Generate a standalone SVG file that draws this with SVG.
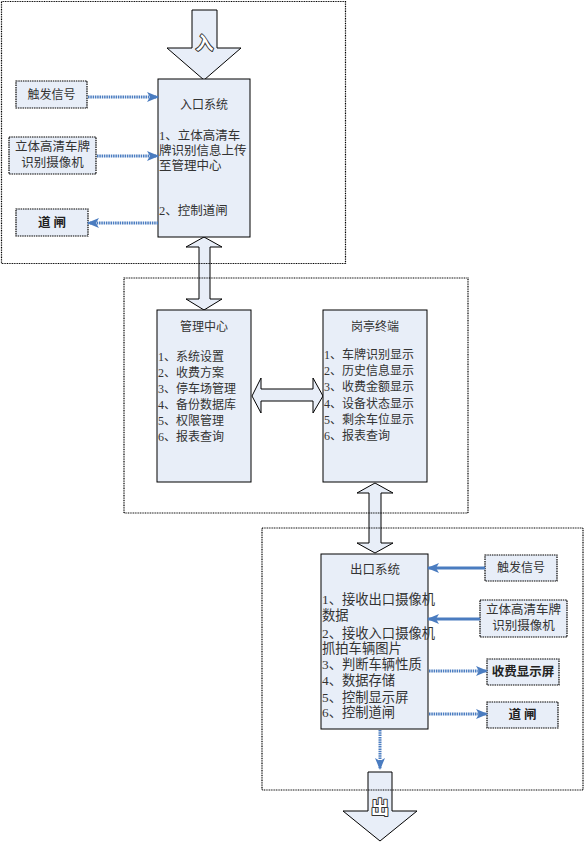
<svg xmlns="http://www.w3.org/2000/svg" width="584" height="846" viewBox="0 0 584 846">
<style>
text{font-family:"Liberation Serif","Noto Sans CJK SC",serif;fill:#333;font-size:12px}
.c{text-anchor:middle}
.b{font-weight:bold;font-size:12.5px;fill:#222}
.box{fill:#e8eef8;stroke:#000;stroke-width:1}
.sbox{fill:#e8eef8;stroke:#000;stroke-width:1.2;stroke-dasharray:1.5 0.8}
.frame{fill:none;stroke:#000;stroke-width:1.2;stroke-dasharray:1 0.7}
.big{fill:#e8eef8;stroke:#000;stroke-width:1}
.ol{font-family:"Noto Sans CJK SC",sans-serif;fill:#ffffff;stroke:#333333;stroke-width:2;paint-order:stroke;stroke-linejoin:round;font-size:18px;font-weight:bold}
.dl{stroke:#4a7cc0;stroke-width:3;stroke-dasharray:1.5 0.8;fill:none}
.sl{stroke:#4a7cc0;stroke-width:3;fill:none}
.e{font-size:13.3px}
</style>
<defs>
<marker id="ah" markerUnits="userSpaceOnUse" markerWidth="12" markerHeight="12" refX="11" refY="5" orient="auto" viewBox="0 0 12 10">
<path d="M0,0 L12,5 L0,10 L3,5 z" fill="#4a7cc0"/>
</marker>
</defs>

<g id="big-arrows">
<polygon class="big" points="192,10 217,10 217,48 241,48 204,80 167,48 192,48"/>
<text class="ol c" x="204.5" y="50">入</text>
<polygon class="big" points="204,237 222,247 210,247 210,299 222,299 204,310 186,299 199,299 199,247 186,247"/>
<polygon class="big" points="252,396 261,378 261,389 313,389 313,378 323,396 313,413 313,401 261,401 261,413"/>
<polygon class="big" points="375,483 393,493 381,493 381,543 393,543 375,553 357,543 369,543 369,493 357,493"/>
<polygon class="big" points="368,772 392,772 392,811 417,811 380,841 343,811 368,811"/>
<text class="ol c" x="380" y="814">出</text>
</g>

<g id="frames">
<rect class="frame" x="1.5" y="1.5" width="344" height="262"/>
<rect class="frame" x="124" y="278" width="344" height="235"/>
<rect class="frame" x="262" y="528" width="321" height="262"/>
</g>

<g id="entry-system">
<rect class="box" x="158" y="79" width="92" height="158"/>
<text class="c" x="204" y="109">入口系统</text>
<text x="159" y="140" style="font-size:12.5px">1、立体高清车</text>
<text x="159" y="155" style="font-size:12.5px">牌识别信息上传</text>
<text x="159" y="170" style="font-size:12.5px">至管理中心</text>
<text x="159" y="215" style="font-size:12.5px">2、控制道闸</text>
</g>
<g id="entry-trigger">
<rect class="sbox" x="16" y="81" width="71" height="27"/>
<text class="c" x="51.5" y="99">触发信号</text>
</g>
<g id="entry-camera">
<rect class="sbox" x="9" y="137" width="87" height="37"/>
<text class="c" x="52.5" y="151" style="font-size:12.5px">立体高清车牌</text>
<text class="c" x="52.5" y="167" style="font-size:12.5px">识别摄像机</text>
</g>
<g id="entry-gate">
<rect class="sbox" x="16" y="209" width="72" height="27"/>
<text class="c b" x="52" y="227">道 闸</text>
</g>

<g id="management">
<rect class="box" x="157" y="310" width="94" height="172"/>
<text class="c" x="204" y="331">管理中心</text>
<text x="158" y="361">1、系统设置</text>
<text x="158" y="377">2、收费方案</text>
<text x="158" y="393">3、停车场管理</text>
<text x="158" y="409">4、备份数据库</text>
<text x="158" y="425">5、权限管理</text>
<text x="158" y="441">6、报表查询</text>
</g>
<g id="booth">
<rect class="box" x="323" y="310" width="104" height="172"/>
<text class="c" x="375" y="331">岗亭终端</text>
<text x="324" y="359">1、车牌识别显示</text>
<text x="324" y="375">2、历史信息显示</text>
<text x="324" y="391">3、收费金额显示</text>
<text x="324" y="408">4、设备状态显示</text>
<text x="324" y="424">5、剩余车位显示</text>
<text x="324" y="440">6、报表查询</text>
</g>

<g id="exit-system">
<rect class="box" x="321" y="554" width="107" height="175"/>
<text class="c" x="375" y="574" style="font-size:12.5px">出口系统</text>
<text class="e" x="322" y="604">1、接收出口摄像机</text>
<text class="e" x="322" y="620">数据</text>
<text class="e" x="322" y="638">2、接收入口摄像机</text>
<text class="e" x="322" y="653">抓拍车辆图片</text>
<text class="e" x="322" y="669">3、判断车辆性质</text>
<text class="e" x="322" y="685">4、数据存储</text>
<text class="e" x="322" y="702">5、控制显示屏</text>
<text class="e" x="322" y="717">6、控制道闸</text>
</g>
<g id="exit-trigger">
<rect class="sbox" x="485" y="555" width="72" height="26"/>
<text class="c" x="521" y="572">触发信号</text>
</g>
<g id="exit-camera">
<rect class="sbox" x="480" y="600" width="87" height="37"/>
<text class="c" x="523.5" y="614" style="font-size:12.5px">立体高清车牌</text>
<text class="c" x="523.5" y="630" style="font-size:12.5px">识别摄像机</text>
</g>
<g id="exit-display">
<rect class="sbox" x="487" y="659" width="72" height="26"/>
<text class="c b" x="523" y="676">收费显示屏</text>
</g>
<g id="exit-gate">
<rect class="sbox" x="487" y="702" width="71" height="26"/>
<text class="c b" x="522.5" y="719">道 闸</text>
</g>

<g id="connectors">
<line class="dl" x1="88" y1="97" x2="158" y2="97" marker-end="url(#ah)"/>
<line class="dl" x1="97" y1="156" x2="158" y2="156" marker-end="url(#ah)"/>
<line class="dl" x1="158" y1="223" x2="88" y2="223" marker-end="url(#ah)"/>
<line class="sl" x1="485" y1="568" x2="428" y2="568" marker-end="url(#ah)"/>
<line class="sl" x1="480" y1="619" x2="428" y2="619" marker-end="url(#ah)"/>
<line class="dl" x1="429" y1="671" x2="487" y2="671" marker-end="url(#ah)"/>
<line class="dl" x1="429" y1="714" x2="487" y2="714" marker-end="url(#ah)"/>
<line class="dl" x1="380" y1="730" x2="380" y2="769" marker-end="url(#ah)"/>
</g>
</svg>
